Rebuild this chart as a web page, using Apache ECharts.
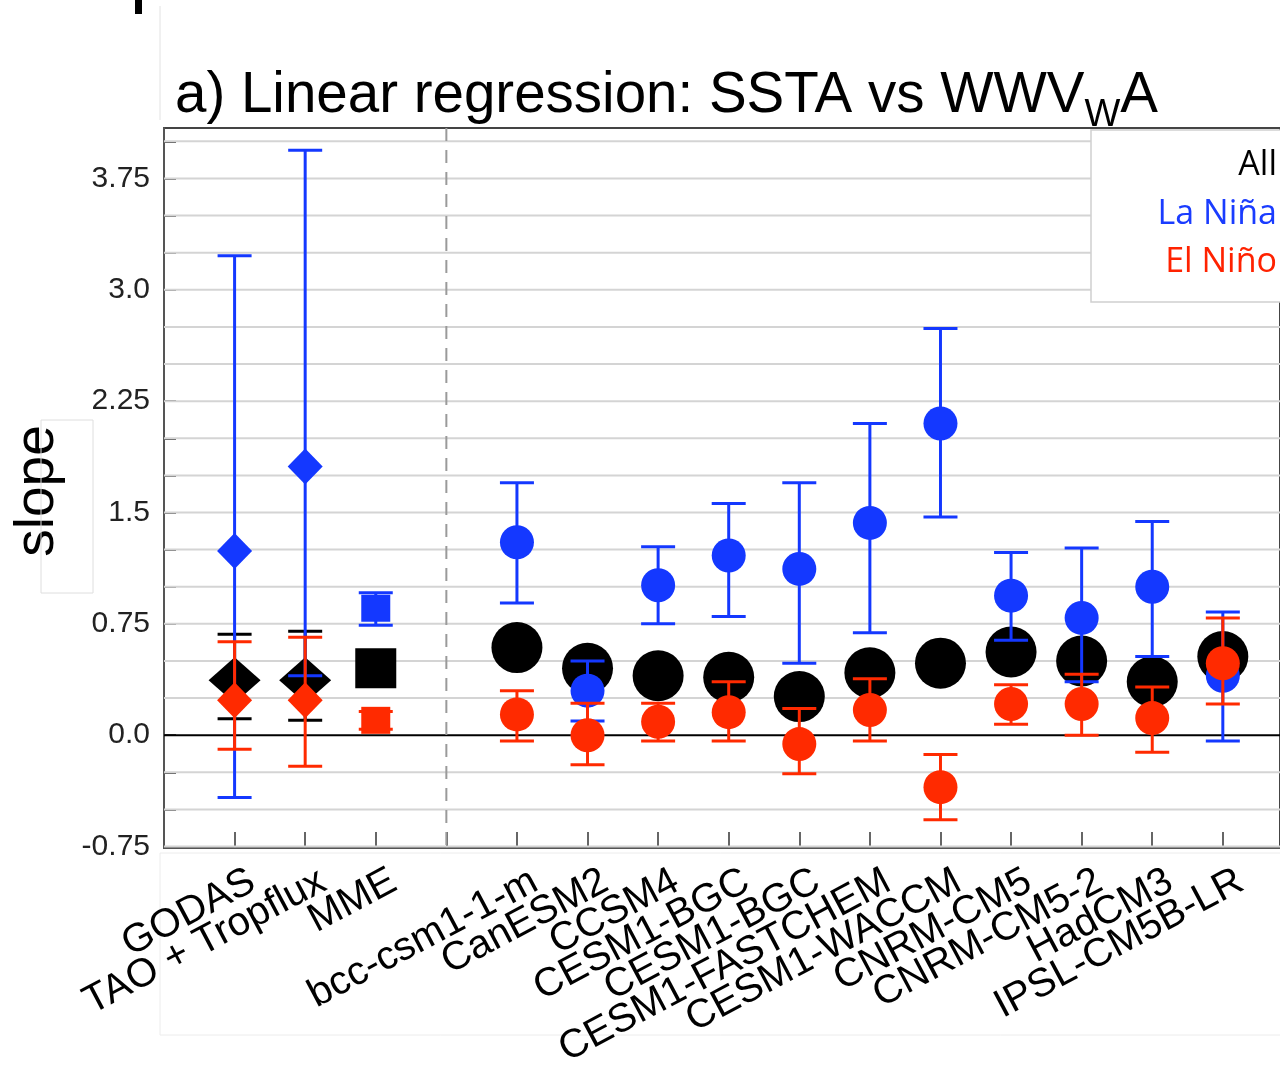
<!DOCTYPE html>
<html>
<head>
<meta charset="utf-8">
<script src="https://cdn.jsdelivr.net/npm/echarts@6/dist/echarts.min.js"></script>
<style>
  html, body { margin: 0; padding: 0; background: #ffffff; }
  #chart { width: 1280px; height: 1066px; }
</style>
</head>
<body>
<div id="chart"></div>
<script>
// Datasets / models along the x axis and their slot positions (slot 4 is the separator)
const labels = ['GODAS', 'TAO + Tropflux', 'MME', 'bcc-csm1-1-m', 'CanESM2', 'CCSM4',
  'CESM1-BGC', 'CESM1-BGC', 'CESM1-FASTCHEM', 'CESM1-WACCM', 'CNRM-CM5', 'CNRM-CM5-2',
  'HadCM3', 'IPSL-CM5B-LR'];
const slots = [1, 2, 3, 5, 6, 7, 8, 9, 10, 11, 12, 13, 14, 15];
const separatorSlot = [4];
const markerKinds = ['diamond', 'diamond', 'square', 'circle', 'circle', 'circle', 'circle',
  'circle', 'circle', 'circle', 'circle', 'circle', 'circle', 'circle'];

// Regression slope, all events
const allSlope = [0.37, 0.37, 0.45, 0.59, 0.45, 0.40, 0.39, 0.26, 0.42, 0.485, 0.56, 0.50, 0.36, 0.53];
// Uncertainty range for the observational "All" estimates
const allLow  = [0.11, 0.10];
const allHigh = [0.68, 0.70];

// La Niña slope and range
const laNina     = [1.24, 1.81, 0.855, 1.30, 0.30, 1.01, 1.21, 1.12, 1.43, 2.10, 0.94, 0.79, 1.00, 0.40];
const laNinaLow  = [-0.42, 0.40, 0.74, 0.89, 0.095, 0.75, 0.80, 0.485, 0.69, 1.47, 0.64, 0.36, 0.53, -0.04];
const laNinaHigh = [3.23, 3.94, 0.96, 1.70, 0.50, 1.27, 1.56, 1.70, 2.10, 2.74, 1.23, 1.26, 1.44, 0.83];

// El Niño slope and range
const elNino     = [0.236, 0.236, 0.10, 0.14, 0.0, 0.09, 0.155, -0.06, 0.17, -0.35, 0.21, 0.21, 0.115, 0.485];
const elNinoLow  = [-0.094, -0.21, 0.04, -0.04, -0.20, -0.04, -0.04, -0.26, -0.04, -0.57, 0.074, 0.0, -0.115, 0.21];
const elNinoHigh = [0.63, 0.66, 0.16, 0.30, 0.215, 0.215, 0.36, 0.18, 0.38, -0.13, 0.34, 0.41, 0.325, 0.79];

// y axis: labelled values, their text, and the light grid every 0.25
const yLabelValues = [-0.75, 0, 0.75, 1.5, 2.25, 3.0, 3.75];
const yTickLabels  = ['-0.75', '0.0', '0.75', '1.5', '2.25', '3.0', '3.75'];
const yGridValues  = [-0.75, -0.5, -0.25, 0.25, 0.5, 0.75, 1.0, 1.25, 1.5, 1.75, 2.0, 2.25,
  2.5, 2.75, 3.0, 3.25, 3.5, 3.75, 4.0];

const legendNames = ['All', 'La Niña', 'El Niño'];

const Y_MIN = -0.76;
const Y_MAX = 4.09;
const BLACK = '#000000';
const BLUE = '#1438ff';
const RED = '#ff2a00';
const SANS = '"Liberation Sans", Arial, Helvetica, sans-serif';

const symbolFor = kind => kind === 'square' ? 'rect' : kind;
function sizeFor(group, kind) {
  if (group === 'all') {
    if (kind === 'diamond') return [52, 46];
    if (kind === 'square') return [41, 40];
    return 51;
  }
  if (kind === 'diamond') return [35, 36];
  if (kind === 'square') return [29, 27];
  return 34;
}
function markerData(values, group) {
  return values.map((v, i) => ({
    value: [slots[i], v],
    symbol: symbolFor(markerKinds[i]),
    symbolSize: sizeFor(group, markerKinds[i])
  }));
}
function rangeData(lows, highs) {
  return lows.map((lo, i) => [slots[i], lo, highs[i]]);
}
function errorBar(color) {
  return function (params, api) {
    const x = api.value(0);
    const pLo = api.coord([x, api.value(1)]);
    const pHi = api.coord([x, api.value(2)]);
    const half = 17;
    const style = { stroke: color, lineWidth: 3 };
    return {
      type: 'group',
      children: [
        { type: 'line', shape: { x1: pLo[0], y1: pLo[1], x2: pHi[0], y2: pHi[1] }, style },
        { type: 'line', shape: { x1: pLo[0] - half, y1: pLo[1], x2: pLo[0] + half, y2: pLo[1] }, style },
        { type: 'line', shape: { x1: pHi[0] - half, y1: pHi[1], x2: pHi[0] + half, y2: pHi[1] }, style }
      ]
    };
  };
}
function hLine(color, width) {
  return function (params, api) {
    const cs = params.coordSys;
    const y = api.coord([0, api.value(0)])[1];
    return { type: 'line', shape: { x1: cs.x, y1: y, x2: cs.x + cs.width, y2: y },
      style: { stroke: color, lineWidth: width } };
  };
}
function vDashed(params, api) {
  const cs = params.coordSys;
  const x = api.coord([api.value(0), 0])[0];
  return { type: 'line', shape: { x1: x, y1: cs.y, x2: x, y2: cs.y + cs.height },
    style: { stroke: '#9a9a9a', lineWidth: 2, lineDash: [13, 9] } };
}
// Slanted category names under the axis, each ending just right of its tick
function slantedLabel(params, api) {
  const p = api.coord([api.value(0), Y_MIN]);
  return {
    type: 'text', x: p[0] + 18, y: p[1] + 31, rotation: 28 * Math.PI / 180,
    style: { text: labels[params.dataIndex], font: '40px ' + SANS, fill: '#000000',
      textAlign: 'right', textVerticalAlign: 'middle' }
  };
}

// Title pieces with a subscript, placed from measured text widths
const ctx = document.createElement('canvas').getContext('2d');
const titleMain = 'a) Linear regression: SSTA vs WWV';
ctx.font = '56.5px ' + SANS;
const mainW = ctx.measureText(titleMain).width;
ctx.font = '38px ' + SANS;
const subW = ctx.measureText('W').width;
const titleX = 175;

const chart = echarts.init(document.getElementById('chart'), null, { renderer: 'canvas' });

chart.setOption({
  backgroundColor: '#ffffff',
  animation: false,
  grid: {
    left: 164, top: 128, right: 0, bottom: 218, outerBoundsMode: 'none',
    show: true, borderColor: '#444444', borderWidth: 2, backgroundColor: 'transparent'
  },
  xAxis: {
    type: 'value', min: 0, max: 15.81,
    splitLine: { show: false },
    axisLine: { show: true, onZero: false, lineStyle: { color: '#555555', width: 2 } },
    axisTick: { show: true, inside: true, length: 16, customValues: slots.concat(separatorSlot),
      lineStyle: { color: '#666666', width: 2 } },
    axisLabel: { show: false }
  },
  yAxis: {
    type: 'value', min: Y_MIN, max: Y_MAX,
    splitLine: { show: false },
    axisLine: { show: true, onZero: false, lineStyle: { color: '#555555', width: 2 } },
    axisTick: { show: true, inside: true, length: 12, customValues: yGridValues.concat([0]),
      lineStyle: { color: '#555555', width: 2 } },
    axisLabel: {
      customValues: yLabelValues,
      formatter: v => yTickLabels[yLabelValues.findIndex(t => Math.abs(t - v) < 1e-6)] || '',
      margin: 14, fontFamily: SANS, fontSize: 30, color: '#222222'
    }
  },
  series: [
    { type: 'custom', name: 'grid', silent: true, z: 1, renderItem: hLine('#d4d4d4', 2),
      data: yGridValues.map(v => [v]) },
    { type: 'custom', name: 'zero', silent: true, z: 2, renderItem: hLine('#000000', 2),
      data: [[0]] },
    { type: 'custom', name: 'separator', silent: true, z: 2, renderItem: vDashed,
      data: separatorSlot.map(v => [v]) },
    { type: 'custom', name: 'names', silent: true, z: 2, clip: false, renderItem: slantedLabel,
      data: slots.map(s => [s]) },
    { type: 'scatter', name: legendNames[0], z: 3, itemStyle: { color: BLACK, opacity: 1 },
      data: markerData(allSlope, 'all') },
    { type: 'custom', name: 'All range', z: 4, renderItem: errorBar(BLACK),
      data: rangeData(allLow, allHigh) },
    { type: 'custom', name: 'La Niña range', z: 5, renderItem: errorBar(BLUE),
      data: rangeData(laNinaLow, laNinaHigh) },
    { type: 'scatter', name: legendNames[1], z: 6, itemStyle: { color: BLUE, opacity: 1 },
      data: markerData(laNina, 'event') },
    { type: 'custom', name: 'El Niño range', z: 7, renderItem: errorBar(RED),
      data: rangeData(elNinoLow, elNinoHigh) },
    { type: 'scatter', name: legendNames[2], z: 8, itemStyle: { color: RED, opacity: 1 },
      data: markerData(elNino, 'event') }
  ],
  graphic: [
    // panel title with subscript W
    { type: 'text', x: titleX, y: 96, z: 20,
      style: { text: titleMain, font: '56.5px ' + SANS, fill: '#000', textAlign: 'left', textVerticalAlign: 'middle' } },
    { type: 'text', x: titleX + mainW, y: 116, z: 20,
      style: { text: 'W', font: '38px ' + SANS, fill: '#000', textAlign: 'left', textVerticalAlign: 'middle' } },
    { type: 'text', x: titleX + mainW + subW, y: 96, z: 20,
      style: { text: 'A', font: '56.5px ' + SANS, fill: '#000', textAlign: 'left', textVerticalAlign: 'middle' } },
    // y axis name
    { type: 'text', x: 38, y: 491, rotation: Math.PI / 2, z: 20,
      style: { text: 'slope', font: '55px ' + SANS, fill: '#000', textAlign: 'center', textVerticalAlign: 'middle' } },
    { type: 'rect', z: 21, shape: { x: 41, y: 420, width: 52, height: 173 },
      style: { fill: 'transparent', stroke: '#dedede', lineWidth: 1 } },
    // legend box
    { type: 'rect', z: 30, shape: { x: 1091, y: 130, width: 210, height: 172 },
      style: { fill: '#ffffff', stroke: '#d0d0d0', lineWidth: 1.5 } },
    { type: 'text', x: 1277, y: 165, z: 31,
      style: { text: legendNames[0], font: '34px "Open Sans", sans-serif', fill: '#000000', textAlign: 'right', textVerticalAlign: 'middle' } },
    { type: 'text', x: 1277, y: 214, z: 31,
      style: { text: legendNames[1], font: '34px "Open Sans", sans-serif', fill: '#1a3cff', textAlign: 'right', textVerticalAlign: 'middle' } },
    { type: 'text', x: 1277, y: 262, z: 31,
      style: { text: legendNames[2], font: '34px "Open Sans", sans-serif', fill: '#ff2200', textAlign: 'right', textVerticalAlign: 'middle' } },
    // frame around the tick-label band and page edge marks
    { type: 'rect', z: 0, shape: { x: 160, y: 853, width: 1140, height: 182 },
      style: { fill: 'transparent', stroke: '#ececec', lineWidth: 1 } },
    { type: 'line', z: 0, shape: { x1: 160, y1: 6, x2: 160, y2: 120 },
      style: { stroke: '#e2e2e2', lineWidth: 1 } },
    { type: 'rect', z: 0, shape: { x: 135, y: 0, width: 7, height: 14 },
      style: { fill: '#000000' } }
  ]
});
</script>
</body>
</html>
